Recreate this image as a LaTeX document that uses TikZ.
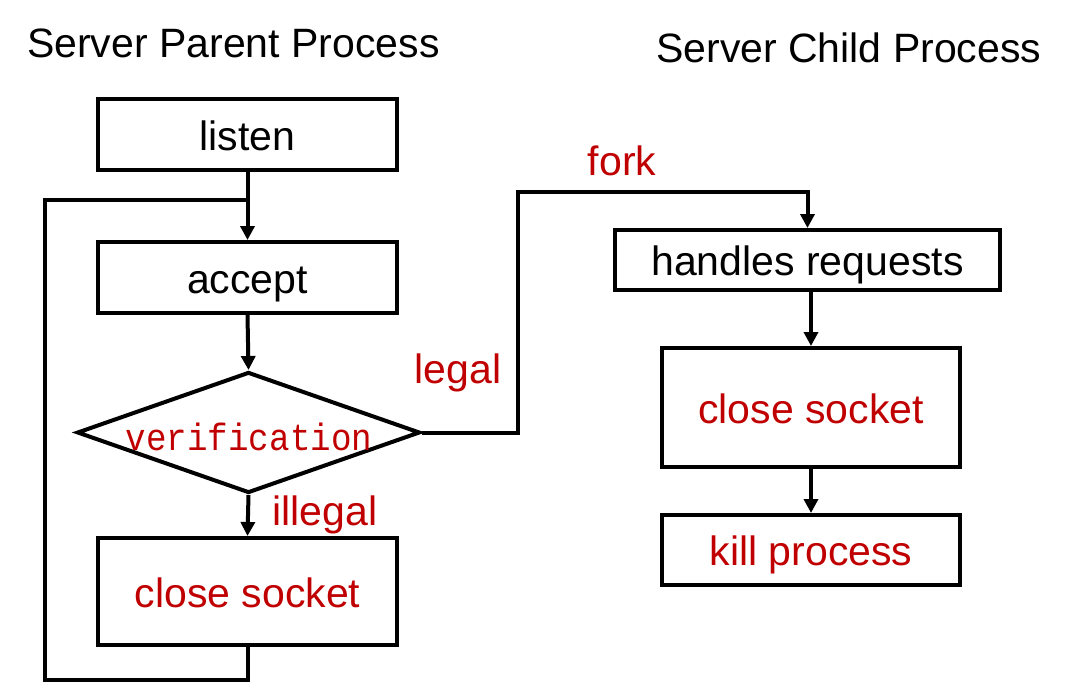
\documentclass[tikz,border=0pt]{standalone}
\usepackage{fontspec}
\setmainfont{Liberation Sans}
\newfontfamily\monofont[FakeStretch=0.9]{Liberation Mono}
\usetikzlibrary{arrows.meta,shapes.geometric}
\definecolor{dred}{RGB}{192,0,0}
\tikzset{
  box/.style={draw,line width=4pt,inner sep=0pt,font=\fontsize{41}{48}\selectfont,text height=35pt,text depth=4pt},
  lbl/.style={inner sep=0pt,font=\fontsize{41}{48}\selectfont,text height=35pt,text depth=4pt},
  conn/.style={line width=4pt,line join=miter},
  arr/.style={conn,-{Triangle[width=14pt,length=14pt]}},
}
\begin{document}
\begin{tikzpicture}[x=1pt,y=-1pt]
\useasboundingbox (0,0) rectangle (1072,685);
\node[lbl,anchor=west] (t1) at (27,42) {Server Parent Process};
\node[lbl,anchor=west] (t2) at (656,47) {Server Child Process};
\node[box,minimum width=299pt,minimum height=71pt] (listen) at (247.5,134.5) {listen};
\node[box,minimum width=299pt,minimum height=71pt] (accept) at (247.5,277.5) {accept};
\node[diamond,draw,line width=4pt,inner sep=0pt,minimum width=343pt,minimum height=121pt] (ver) at (248.5,432.5) {};
\node[inner sep=0pt,text=dred,font=\monofont\fontsize{38}{40}\selectfont] (vtxt) at (249,437) {verification};
\node[box,text=dred,minimum width=299pt,minimum height=107pt] (cs1) at (247.5,591.5) {close socket};
\node[box,minimum width=385pt,minimum height=60pt] (hr) at (807.5,260) {handles requests};
\node[box,text=dred,minimum width=298pt,minimum height=119pt] (cs2) at (811,407.5) {close socket};
\node[box,text=dred,minimum width=298pt,minimum height=70pt] (kill) at (811,550) {kill process};
\node[lbl,text=dred] (fork) at (622,160) {fork};
\node[lbl,text=dred] (legal) at (458,368) {legal};
\node[lbl,text=dred] (illegal) at (325,510) {illegal};
\coordinate (join) at (247.5,200);
\coordinate (lb) at (45,680);
\coordinate (f1) at (518,192);
\draw[arr] (listen.south) -- (accept.north);
\draw[arr] (accept.south) -- (ver.north);
\draw[arr] (ver.south) -- (cs1.north);
\draw[conn] (cs1.south) |- (lb) |- (join);
\draw[arr] (ver.east) -| (f1) -| (hr.north);
\draw[arr] (hr.south -| cs2.north) -- (cs2.north);
\draw[arr] (cs2.south) -- (kill.north);
\end{tikzpicture}
\end{document}
